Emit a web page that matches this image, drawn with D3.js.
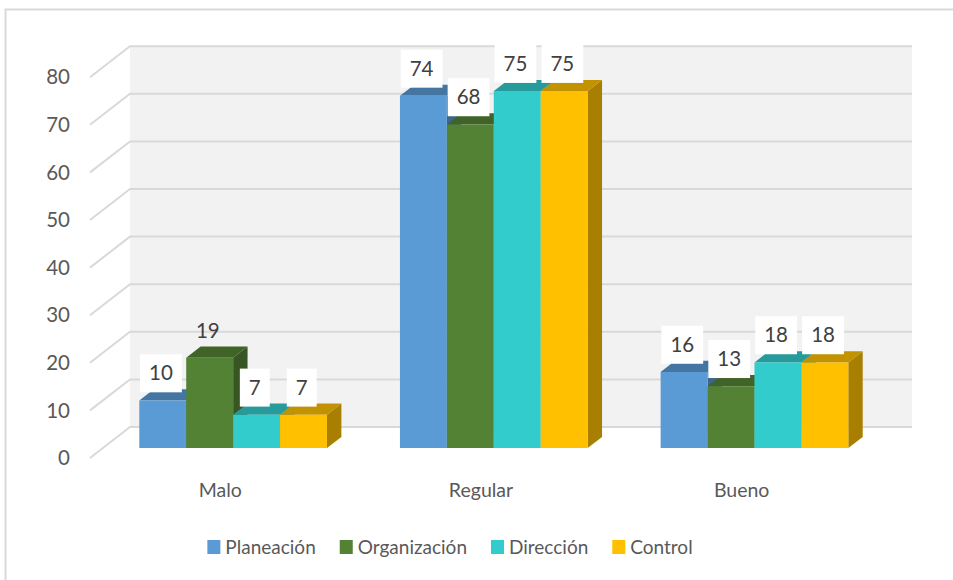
<!DOCTYPE html>
<html>
<head>
<meta charset="utf-8">
<script src="https://cdn.jsdelivr.net/npm/d3@7"></script>
<style>
 body { margin: 0; background: #fff; }
 text { font-family: Lato, "Open Sans", sans-serif; }
</style>
</head>
<body>
<div id="chart"></div>
<script>
// data
var categories = ["Malo", "Regular", "Bueno"];
var seriesNames = ["Planeación", "Organización", "Dirección", "Control"];
var planeacion = [10, 74, 16];
var organizacion = [19, 68, 13];
var direccion = [7, 75, 18];
var control = [7, 75, 18];
var yTicks = [0, 10, 20, 30, 40, 50, 60, 70, 80];
var colors = ["#5B9BD5", "#548235", "#33CCCC", "#FFC000"];
// label of Malo / Organización is drawn without its white box in the original
var noBoxLabels = ["Malo|Organización"];

var w = 953, h = 580;
var series = [planeacion, organizacion, direccion, control];

// depth of the floor, as screen offset
var DX = 40, DY = -31;
var z0 = 0.32, z1 = 0.68;

var x0 = d3.scaleBand().domain(categories).range([90, 872]).paddingInner(0.28).paddingOuter(0.14);
var x1 = d3.scaleBand().domain(seriesNames).range([0, x0.bandwidth()]);
var y = d3.scaleLinear().domain([0, 80]).range([458, 458 - 80 * 4.76]);

function P(x, v, z) { return [x + DX * z, y(v) + DY * z]; }
function shade(c, k) { var r = d3.rgb(c); return d3.rgb(r.r * k, r.g * k, r.b * k).formatHex(); }

var mysvg = d3.select("#chart").append("svg").attr("width", w).attr("height", h);

// outer frame
mysvg.append("rect").attr("x", 5.5).attr("y", 9.5).attr("width", 1000).attr("height", 700)
  .attr("fill", "none").attr("stroke", "#D9D9D9").attr("stroke-width", 2);

// back wall
var wallL = P(x0.range()[0], 80, 1), wallR = P(x0.range()[1], 0, 1);
mysvg.append("rect").attr("x", wallL[0]).attr("y", wallL[1])
  .attr("width", wallR[0] - wallL[0]).attr("height", wallR[1] - wallL[1]).attr("fill", "#F2F2F2");

var grid = mysvg.append("g").attr("stroke", "#D9D9D9").attr("stroke-width", 2).attr("fill", "none");
yTicks.forEach(function (t) {
  var a = P(90, t, 0), b = P(90, t, 1), c = P(872, t, 1);
  grid.append("polyline").attr("points", [a, b, c].map(function (p) { return p.join(","); }).join(" "));
});

// y labels
mysvg.append("g").selectAll("text").data(yTicks).join("text")
  .attr("x", 70).attr("y", function (d) { return y(d); }).attr("dy", "0.35em")
  .attr("text-anchor", "end").attr("font-size", 20.5).attr("fill", "#595959")
  .text(function (d) { return d; });

// category labels
mysvg.append("g").selectAll("text").data(categories).join("text")
  .attr("x", function (d) { return x0(d) + x0.bandwidth() / 2; }).attr("y", 490).attr("dy", "0.35em")
  .attr("text-anchor", "middle").attr("font-size", 19.5).attr("fill", "#595959")
  .text(function (d) { return d; });

function poly(g, pts, fill) {
  g.append("polygon").attr("points", pts.map(function (p) { return p.join(","); }).join(" ")).attr("fill", fill);
}

var bars = mysvg.append("g");
categories.forEach(function (cat, ci) {
  seriesNames.forEach(function (s, si) {
    var v = series[si][ci];
    var xa = x0(cat) + x1(s), xb = xa + x1.bandwidth();
    var col = colors[si];
    var g = bars.append("g");
    // side
    poly(g, [P(xb, 0, z0), P(xb, 0, z1), P(xb, v, z1), P(xb, v, z0)], shade(col, 0.66));
    // top
    poly(g, [P(xa, v, z0), P(xa, v, z1), P(xb, v, z1), P(xb, v, z0)], shade(col, 0.76));
    // front
    poly(g, [P(xa, 0, z0), P(xb, 0, z0), P(xb, v, z0), P(xa, v, z0)], col);

    // value label
    var back = P(xa, v, z1)[1];
    var cx = (xa + xb) / 2 + 11, bottom = back + 3;
    var lab = g.append("g");
    var box = lab.append("rect").attr("fill", "#fff");
    var txt = lab.append("text").attr("x", cx).attr("y", bottom - 19).attr("dy", "0.35em")
      .attr("text-anchor", "middle").attr("font-size", 20.5).attr("fill", "#404040").text(v);
    var tw = txt.node().getComputedTextLength();
    if (noBoxLabels.indexOf(cat + "|" + s) < 0) {
      box.attr("x", cx - tw / 2 - 9).attr("y", bottom - 38).attr("width", tw + 18).attr("height", 38);
    } else box.remove();
  });
});

// legend
var leg = mysvg.append("g");
var lx = 0;
seriesNames.forEach(function (s, i) {
  var it = leg.append("g").attr("transform", "translate(" + lx + ",0)");
  it.append("rect").attr("x", 0).attr("y", 540).attr("width", 13).attr("height", 14).attr("fill", colors[i]);
  var t = it.append("text").attr("x", 18).attr("y", 547).attr("dy", "0.35em")
    .attr("font-size", 19).attr("fill", "#595959").text(s);
  lx += 18 + t.node().getComputedTextLength() + 24;
});
lx -= 24;
leg.attr("transform", "translate(" + (450 - lx / 2) + ",0)");
</script>
</body>
</html>
